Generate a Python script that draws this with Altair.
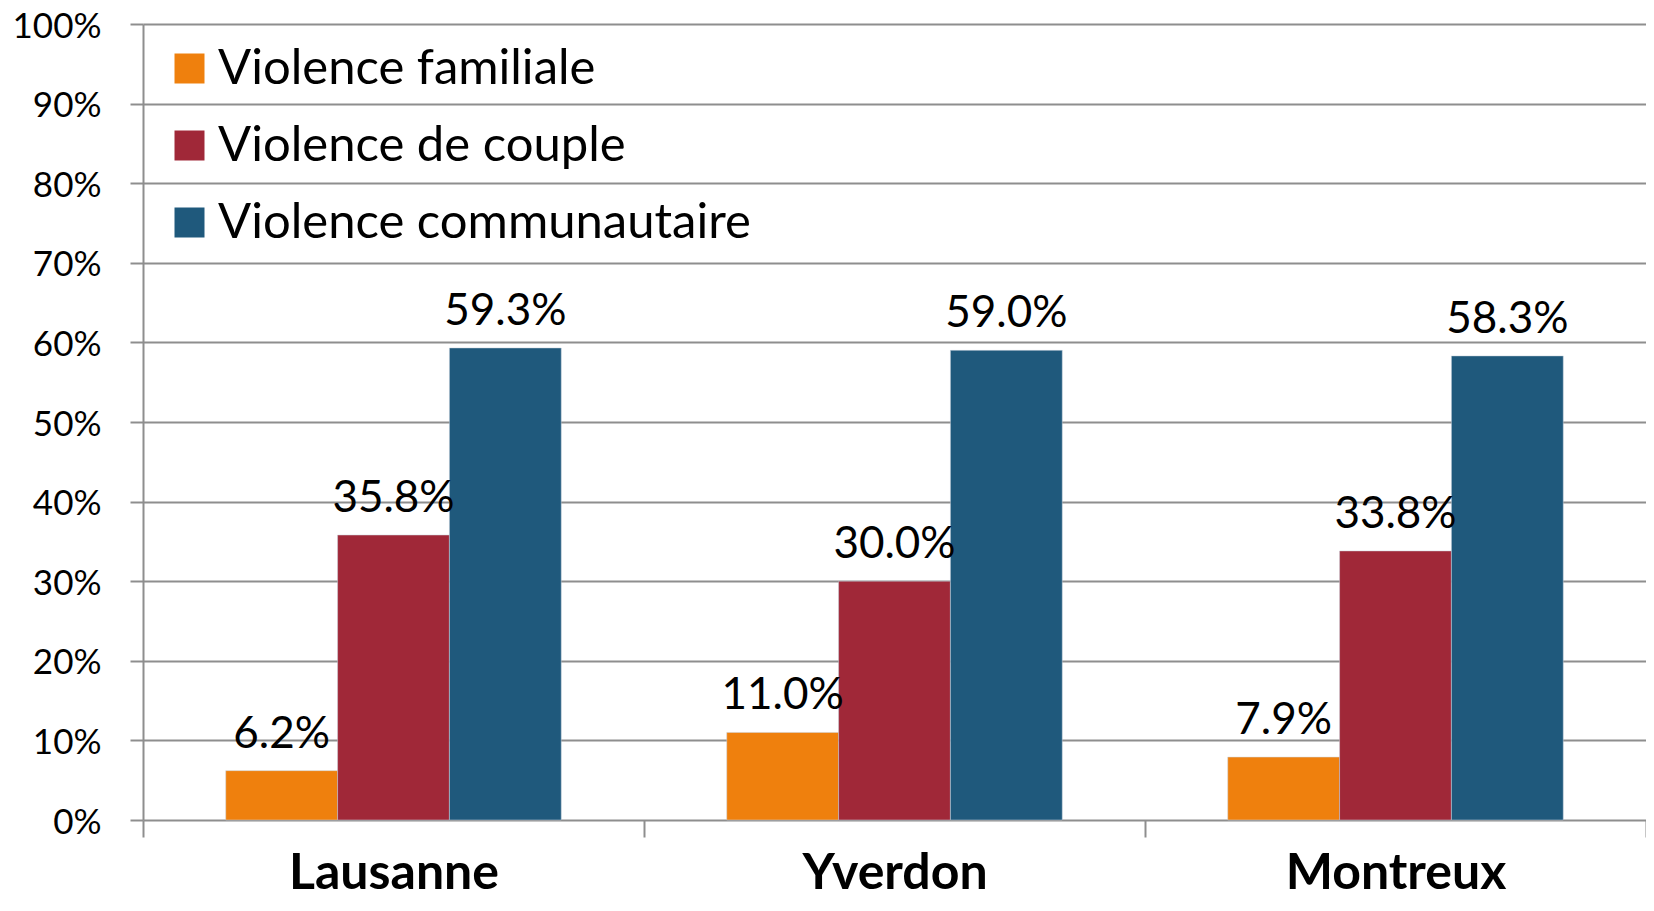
import altair as alt
import pandas as pd

cities = ["Lausanne", "Yverdon", "Montreux"]
series = ["Violence familiale", "Violence de couple", "Violence communautaire"]
familiale = [6.2, 11.0, 7.9]
couple = [35.8, 30.0, 33.8]
communautaire = [59.3, 59.0, 58.3]
colors = ["#EF800D", "#A02838", "#1F597C"]
y_ticks = [0, 10, 20, 30, 40, 50, 60, 70, 80, 90, 100]

rows = []
for s, vals in zip(series, [familiale, couple, communautaire]):
    for c, v in zip(cities, vals):
        rows.append({"city": c, "series": s, "value": v})
df = pd.DataFrame(rows)

FONT = "Lato"
GRID = "#8E8E8E"
W, H = 1503, 796

x_enc = alt.X(
    "city:N",
    sort=cities,
    scale=alt.Scale(paddingInner=0, paddingOuter=0),
    axis=alt.Axis(
        title=None,
        labelAngle=0,
        tickBand="extent",
        tickSize=17,
        tickColor=GRID,
        tickWidth=2,
        domain=False,
        labelFont=FONT,
        labelFontSize=50,
        labelFontWeight="bold",
        labelColor="#000000",
        labelPadding=11,
        labelLimit=0,
    ),
)
xo_enc = alt.XOffset(
    "series:N", sort=series, scale=alt.Scale(paddingOuter=0.74, paddingInner=0)
)
y_enc = alt.Y(
    "value:Q",
    scale=alt.Scale(domain=[0, 100], nice=False),
    axis=alt.Axis(
        title=None,
        values=y_ticks,
        labelExpr="datum.value + '%'",
        grid=True,
        gridColor=GRID,
        gridWidth=2,
        domain=True,
        domainColor=GRID,
        domainWidth=2,
        tickSize=13,
        tickColor=GRID,
        tickWidth=2,
        labelFont=FONT,
        labelFontSize=35,
        labelColor="#000000",
        labelPadding=29,
        labelOffset=2,
        labelLimit=0,
    ),
)

bars = alt.Chart(df).mark_bar(stroke="#C8D3DC", strokeWidth=0.5).encode(
    x=x_enc,
    xOffset=xo_enc,
    y=y_enc,
    color=alt.Color(
        "series:N",
        sort=series,
        scale=alt.Scale(domain=series, range=colors),
        legend=alt.Legend(
            title=None,
            orient="none",
            legendX=22,
            legendY=20,
            symbolType="square",
            symbolSize=900,
            symbolStrokeWidth=0,
            labelFont=FONT,
            labelFontSize=49,
            labelColor="#000000",
            labelOffset=4,
            labelLimit=0,
            rowPadding=27,
            padding=0,
        ),
    ),
)

labels = (
    alt.Chart(df)
    .transform_calculate(label="format(datum.value, '.1f') + '%'")
    .mark_text(font=FONT, fontSize=44, color="#000000", baseline="alphabetic", dy=-23)
    .encode(x=alt.X("city:N", sort=cities), xOffset=alt.XOffset("series:N", sort=series), y="value:Q", text="label:N")
)

chart = (
    alt.layer(bars, labels)
    .properties(
        width=W,
        height=H,
        autosize=alt.AutoSizeParams(type="none"),
        padding={"left": 135, "top": 16, "right": 0, "bottom": 82},
    )
    .configure_view(stroke=None)
)

chart.save("out.html", embed_options={"renderer": "svg", "actions": False})
